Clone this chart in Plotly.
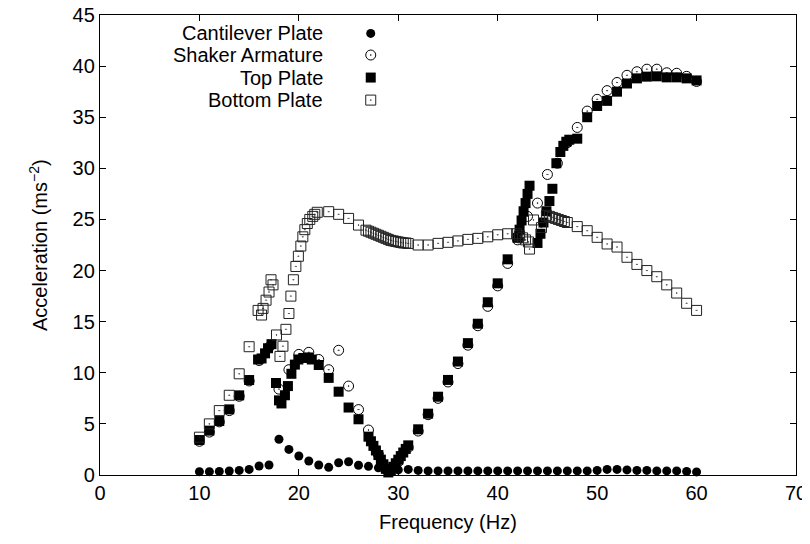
import plotly.graph_objects as go

# ---------------- data ----------------
cant_freq = [10, 11, 12, 13, 14, 15, 16, 17, 18, 19, 20, 21, 22, 23, 24, 25, 26, 27, 28, 29,
             30, 31, 32, 33, 34, 35, 36, 37, 38, 39, 40, 41, 42, 43, 44, 45, 46, 47, 48, 49,
             50, 51, 52, 53, 54, 55, 56, 57, 58, 59, 60]
cant_acc = [0.33, 0.33, 0.35, 0.39, 0.45, 0.55, 0.88, 0.98, 3.5, 2.5, 1.86, 1.37, 0.98, 0.75, 1.2, 1.3, 0.95, 0.85, 0.7, 0.5,
            0.5, 0.55, 0.45, 0.4, 0.4, 0.4, 0.4, 0.4, 0.4, 0.4, 0.4, 0.4, 0.4, 0.4, 0.4, 0.4, 0.4, 0.4, 0.4, 0.4,
            0.45, 0.55, 0.55, 0.5, 0.45, 0.45, 0.4, 0.4, 0.4, 0.35, 0.3]

shaker_freq = [10, 11, 12, 13, 14, 15, 16, 17, 18, 19, 20, 21, 22, 23, 24, 25, 26, 27, 28, 29,
               30, 31, 32, 33, 34, 35, 36, 37, 38, 39, 40, 41, 42, 43, 44, 45, 46, 47, 48, 49,
               50, 51, 52, 53, 54, 55, 56, 57, 58, 59, 60]
shaker_acc = [3.3, 4.2, 5.2, 6.3, 7.7, 9.2, 11.2, 12.5, 8.4, 10.3, 11.8, 12.0, 11.3, 10.3, 12.2, 8.7, 6.4, 4.4, 2.0, 0.4,
              1.3, 2.7, 4.3, 5.9, 7.5, 9.1, 10.9, 12.7, 14.6, 16.5, 18.5, 20.7, 23.0, 25.3, 26.6, 29.4, 30.5, 32.5, 34.0, 35.6,
              36.75, 37.6, 38.4, 39.1, 39.45, 39.7, 39.7, 39.35, 39.3, 39.0, 38.5]

top_freq = [10, 11, 12, 13, 14, 15,
            15.9, 16.25, 16.6, 16.9, 17.25,
            17.7, 18.0, 18.25, 18.6, 18.9, 19.25, 19.6, 19.95, 20.45, 20.95, 21.3,
            22, 23, 24, 25, 26, 27,
            27.25, 27.5, 27.75, 28.0, 28.25, 28.5, 28.75, 29.0, 29.25, 29.5, 29.75, 30.0, 30.25, 30.5, 30.75, 31.0,
            32, 33, 34, 35, 36, 37, 38, 39, 40, 41,
            42.0, 42.2, 42.4, 42.6, 42.8, 43.0, 43.2,
            44.0, 44.3, 44.6, 44.9, 45.2, 45.5, 45.9, 46.3, 46.6, 46.9, 47.2,
            48, 49, 50, 51, 52, 53, 54, 55, 56, 57, 58, 59, 60]
top_acc = [3.42, 4.34, 5.28, 6.42, 7.79, 9.29,
           11.3, 11.4, 11.9, 12.4, 12.8,
           9.0, 7.3, 7.0, 7.8, 8.7, 9.9, 10.8, 11.3, 11.45, 11.5, 11.3,
           10.76, 9.5, 8.15, 6.6, 5.45, 3.75,
           3.3, 2.85, 2.4, 1.95, 1.5, 1.05, 0.6, 0.25, 0.45, 0.8, 1.15, 1.5, 1.85, 2.2, 2.55, 2.9,
           4.47, 6.0, 7.66, 9.3, 11.1, 12.9, 14.8, 16.9, 18.75, 21.1,
           23.2, 24.0, 24.9, 25.8, 26.6, 27.5, 28.3,
           22.7, 23.6, 24.7, 25.8, 26.8, 28.0, 30.5, 31.6, 32.2, 32.6, 32.8,
           32.9, 35.0, 36.1, 36.6, 37.5, 38.3, 38.8, 38.97, 39.0, 38.9, 38.9, 38.8, 38.6]

bottom_freq = [10, 11, 12, 13, 14, 15,
               15.9, 16.25, 16.4, 16.7, 17.0, 17.2, 17.4,
               17.75, 18.1, 18.4, 18.7, 19.0, 19.2, 19.45, 19.7, 19.95, 20.2, 20.4, 20.6, 20.85, 21.1, 21.4, 21.6, 21.85,
               23, 24, 25, 26,
               26.75, 27.0, 27.25, 27.5, 27.75, 28.0, 28.25, 28.5, 28.75, 29.0, 29.25, 29.5, 29.75, 30.0, 30.25, 30.5, 30.75, 31.0,
               32, 33, 34, 35, 36, 37, 38, 39, 40, 41,
               41.9, 42.2, 42.5, 42.8, 43.1, 43.2, 43.6, 44.4,
               44.9, 45.2, 45.5, 45.8, 46.1, 46.4, 46.7, 47.0,
               48, 49, 50, 51, 52, 53, 54, 55, 56, 57, 58, 59, 60]
bottom_acc = [3.7, 5.0, 6.3, 7.8, 9.9, 12.55,
              16.1, 15.65, 16.3, 17.1, 17.9, 19.1, 18.6,
              13.7, 11.6, 12.6, 14.25, 15.8, 17.5, 19.1, 20.4, 21.4, 22.4, 23.3, 24.0, 24.6, 25.0, 25.3, 25.5, 25.7,
              25.76, 25.5, 25.1, 24.45,
              23.95, 23.85, 23.75, 23.65, 23.55, 23.45, 23.35, 23.25, 23.15, 23.05, 22.95, 22.9, 22.85, 22.8, 22.75, 22.7, 22.7, 22.65,
              22.5, 22.5, 22.66, 22.76, 22.9, 23.05, 23.15, 23.3, 23.5, 23.6,
              23.6, 23.4, 23.2, 23.0, 22.8, 22.1, 24.95, 24.2,
              25.4, 25.3, 25.2, 25.1, 25.0, 24.9, 24.8, 24.7,
              24.3, 23.9, 23.25, 22.6, 22.3, 21.3, 20.6, 20.0, 19.4, 18.6, 17.8, 16.8, 16.1]

series_names = ["Cantilever Plate", "Shaker Armature", "Top Plate", "Bottom Plate"]
x_ticks = [0, 10, 20, 30, 40, 50, 60, 70]
y_ticks = [0, 5, 10, 15, 20, 25, 30, 35, 40, 45]
x_title = "Frequency (Hz)"
y_title = "Acceleration (ms<sup>−2</sup>)"

# ---------------- styles ----------------
FONT = "Liberation Sans, Arial, sans-serif"
FS = 20
styles = [
    dict(symbol="circle", size=9, color="black", line=dict(width=0, color="black")),
    dict(symbol="circle-open-dot", size=10, color="black", line=dict(width=1, color="black")),
    dict(symbol="square", size=10, color="black", line=dict(width=0, color="black")),
    dict(symbol="square-open-dot", size=10, color="#222222", line=dict(width=1, color="#222222")),
]

fig = go.Figure()
data = [(cant_freq, cant_acc), (shaker_freq, shaker_acc), (top_freq, top_acc), (bottom_freq, bottom_acc)]
for (fx, fy), name, st in zip(data, series_names, styles):
    fig.add_trace(go.Scatter(x=fx, y=fy, mode="markers", name=name, marker=st,
                             showlegend=False, cliponaxis=False))

# gnuplot-style key: text right-aligned, sample symbol to the right
key_y = [0.960, 0.913, 0.864, 0.815]
key_text_x = 0.3233
key_sym_x = 0.389
for name, st, ky in zip(series_names, styles, key_y):
    fig.add_trace(go.Scatter(x=[key_sym_x], y=[ky], mode="markers", marker=st,
                             xaxis="x2", yaxis="y2", showlegend=False, hoverinfo="skip"))
    fig.add_annotation(x=key_text_x, y=ky, xref="paper", yref="paper", text=name,
                       showarrow=False, xanchor="right", yanchor="middle",
                       font=dict(family=FONT, size=FS, color="black"))

# axis titles
fig.add_annotation(x=0.5, y=-0.102, xref="paper", yref="paper", text=x_title,
                   showarrow=False, xanchor="center", yanchor="middle",
                   font=dict(family=FONT, size=FS, color="black"))
fig.add_annotation(x=-0.0891, y=0.5, xref="paper", yref="paper", text=y_title,
                   showarrow=False, xanchor="center", yanchor="middle", textangle=-90,
                   font=dict(family=FONT, size=FS, color="black"))

axis_common = dict(showline=True, linecolor="black", linewidth=1.3, mirror="ticks",
                   ticks="inside", ticklen=6, tickwidth=1, tickcolor="black",
                   showgrid=False, zeroline=False, automargin=False,
                   ticklabeloverflow="allow",
                   tickfont=dict(family=FONT, size=FS, color="black"))

# page body adds an 8px offset, so the figure is sized to fit the 810x544 window
fig.update_layout(
    width=802, height=536,
    margin=dict(l=92, r=14, t=7, b=69),
    paper_bgcolor="white", plot_bgcolor="white",
    font=dict(family=FONT, size=FS, color="black"),
    xaxis=dict(range=[0, 70], tickvals=x_ticks, **axis_common),
    yaxis=dict(range=[0, 45], tickvals=y_ticks, **axis_common),
    xaxis2=dict(overlaying="x", range=[0, 1], visible=False),
    yaxis2=dict(overlaying="y", range=[0, 1], visible=False),
)

fig.write_html("out.html")
